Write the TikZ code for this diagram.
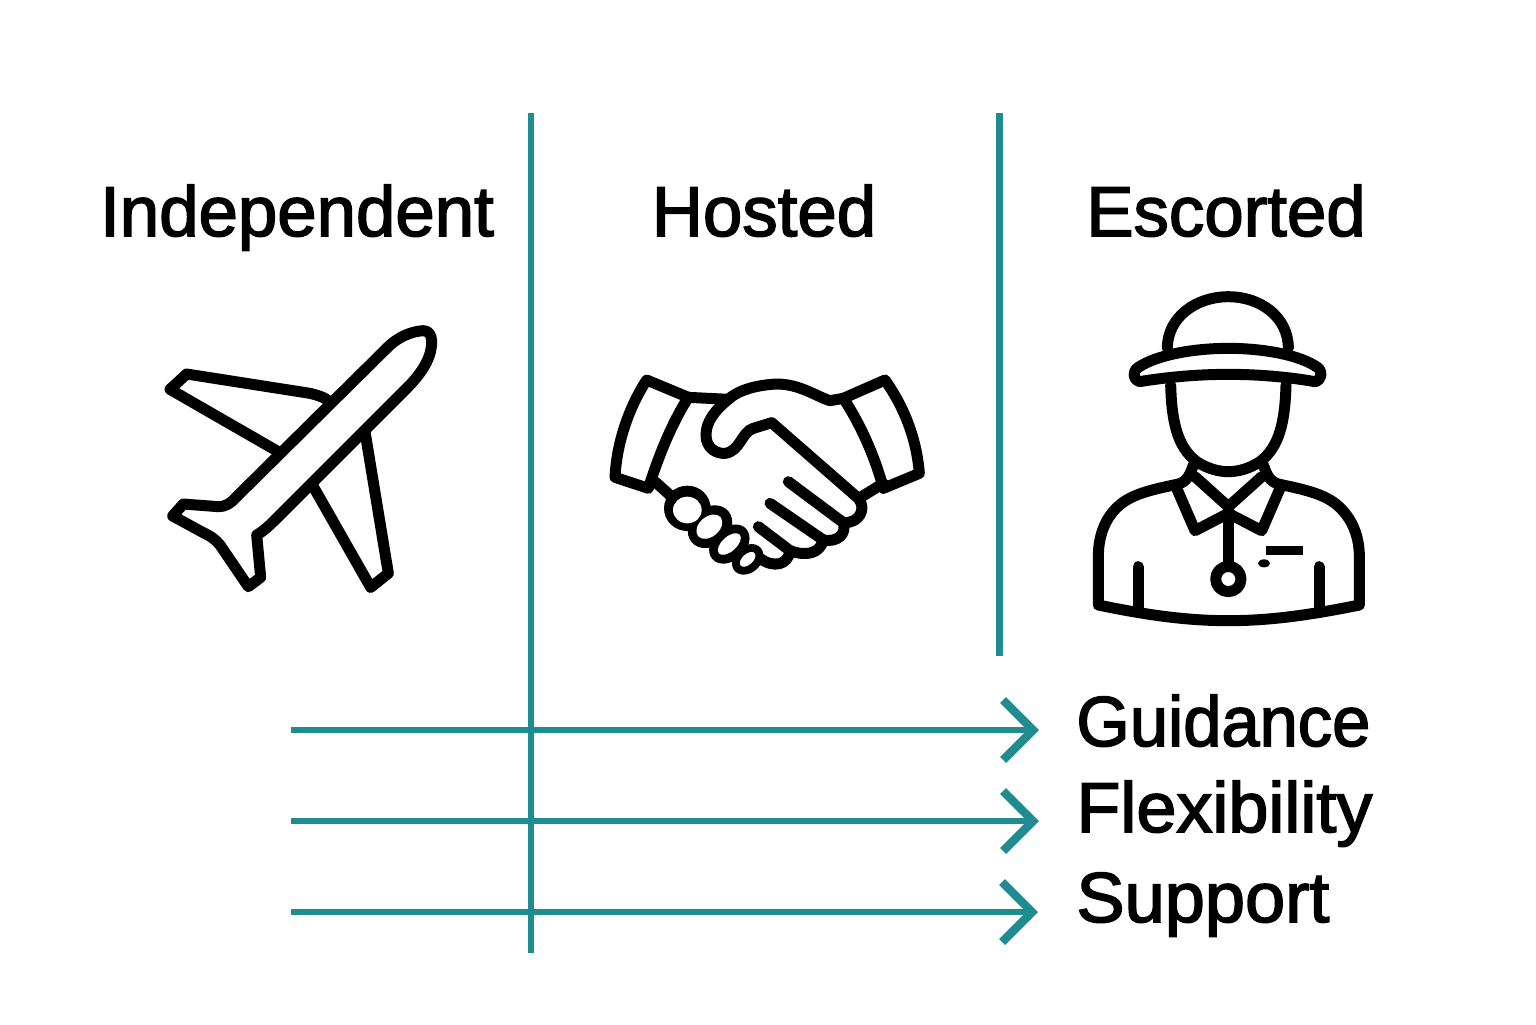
\documentclass[tikz,border=0pt]{standalone}
\usepackage{fontspec}
\setmainfont[FakeBold=2.2]{Liberation Sans}
\usetikzlibrary{arrows.meta}
\definecolor{teal1}{HTML}{1E8C91}
\tikzset{
  icon/.style={draw=black,line width=5.5pt,line join=round,line cap=round},
  rule/.style={draw=teal1,line width=3.25pt},
  flow/.style={draw=teal1,line width=3pt,-{Straight Barb[length=15pt,width=30pt,line width=4.2pt]}},
  head/.style={font=\fontsize{35.4}{38}\selectfont,text=black,inner sep=0pt,anchor=base},
  lab/.style={font=\fontsize{35.4}{38}\selectfont,text=black,inner sep=0pt,anchor=base west}
}
\begin{document}
\begin{tikzpicture}[x=0.5pt,y=-0.5pt]
\useasboundingbox (0,0) rectangle (1536,1024);
\fill[white] (0,0) rectangle (1536,1024);
% rules
\coordinate (v1t) at (531,113); \coordinate (v1b) at (531,953);
\coordinate (v2t) at (999.5,113); \coordinate (v2b) at (999.5,656);
\draw[rule] (v1t) -- (v1b);
\draw[rule] (v2t) -- (v2b);
\coordinate (a1) at (291,730); \coordinate (b1) at (1039,730);
\coordinate (a2) at (291,821); \coordinate (b2) at (1039,821);
\coordinate (a3) at (291,912); \coordinate (b3) at (1038,912);
\draw[flow] (a1) -- (b1);
\draw[flow] (a2) -- (b2);
\draw[flow] (a3) -- (b3);
% text
\node[head] (t1) at (297,236) {Independent};
\node[head] (t2) at (764,236) {Hosted};
\node[head] (t3) at (1226,236) {Escorted};
\node[lab,xscale=0.97] (l1) at (1076,746) {Guidance};
\node[lab,xscale=1.017] (l2) at (1076,832) {Flexibility};
\node[lab,xscale=1.02] (l3) at (1076,922) {Support};
% plane
\begin{scope}[shift={(140,310)},x=0.16667pt,y=-0.16667pt]
\draw[icon] (850,62) .. controls (810,64) and (770,85) .. (745,110) -- (290,560)
  .. controls (270,582) and (255,590) .. (235,590) -- (130,582) -- (98,618) -- (190,668)
  .. controls (215,680) and (228,690) .. (240,705) -- (325,830) -- (362,802) -- (350,675)
  .. controls (375,660) and (390,645) .. (420,615) -- (660,375) -- (800,235)
  .. controls (860,175) and (875,130) .. (875,95) .. controls (875,75) and (865,61) .. (850,62) -- cycle;
\draw[icon] (565,272) .. controls (550,260) and (530,255) .. (510,250) -- (140,192) -- (90,238) -- (415,425);
\draw[icon] (675,365) -- (745,790) -- (692,832) -- (520,530);
\end{scope}
% handshake
\begin{scope}[shift={(600,360)},x=0.16667pt,y=-0.16667pt]
\draw[icon] (140,60) -- (265,112) .. controls (215,190) and (175,290) .. (145,385) -- (45,352)
  .. controls (50,250) and (85,145) .. (140,60) -- cycle;
\draw[icon] (855,60) -- (730,115) .. controls (780,190) and (825,290) .. (850,385) -- (958,340)
  .. controls (950,240) and (915,145) .. (855,60) -- cycle;
\draw[icon] (265,112) -- (385,118);
\draw[icon] (730,115) -- (690,122) .. controls (650,110) and (600,72) .. (530,72)
  .. controls (470,75) and (415,90) .. (385,118)
  .. controls (345,150) and (318,185) .. (318,225) .. controls (318,265) and (350,282) .. (375,280)
  .. controls (420,275) and (425,215) .. (460,205) -- (515,188) -- (775,415)
  .. controls (800,445) and (780,490) .. (730,488);
\draw[icon] (565,365) -- (730,488) .. controls (740,520) and (715,548) .. (670,540);
\draw[icon] (510,430) -- (670,540) .. controls (660,580) and (620,590) .. (570,572);
\draw[icon] (475,500) -- (570,572) .. controls (565,615) and (520,625) .. (480,595);
\draw[icon] (850,370) -- (785,410);
\draw[icon] (165,365) -- (215,410);
\fill[black] (262,445) ellipse [x radius=70,y radius=68];
\fill[black,rotate around={40:(330,500)}] (330,500) ellipse [x radius=72,y radius=58];
\fill[black,rotate around={42:(388,552)}] (388,552) ellipse [x radius=68,y radius=50];
\fill[black,rotate around={42:(443,598)}] (443,598) ellipse [x radius=52,y radius=40];
\fill[white] (262,450) ellipse [x radius=43,y radius=40];
\fill[white,rotate around={40:(328,500)}] (328,500) ellipse [x radius=44,y radius=30];
\fill[white,rotate around={42:(388,552)}] (388,552) ellipse [x radius=42,y radius=22];
\fill[white,rotate around={42:(443,598)}] (443,598) ellipse [x radius=28,y radius=16];
\end{scope}
% person
\begin{scope}[shift={(1080,280)},x=0.16667pt,y=-0.16667pt]
\draw[icon] (262,205) .. controls (262,110) and (350,50) .. (445,50) .. controls (540,50) and (625,110) .. (625,205);
\draw[icon] (178,305) .. controls (160,300) and (155,275) .. (175,262) .. controls (230,225) and (340,205) .. (445,205)
  .. controls (550,205) and (660,225) .. (712,262) .. controls (730,275) and (725,300) .. (705,305)
  .. controls (620,290) and (530,283) .. (445,283) .. controls (360,283) and (270,290) .. (178,305) -- cycle;
\draw[icon] (272,315) .. controls (275,420) and (290,500) .. (350,545) .. controls (385,568) and (420,575) .. (445,575)
  .. controls (470,575) and (505,568) .. (540,545) .. controls (600,500) and (615,420) .. (618,315);
\draw[icon] (340,555) .. controls (330,585) and (320,605) .. (295,612) .. controls (220,628) and (165,640) .. (125,670)
  .. controls (80,705) and (55,760) .. (55,830) -- (55,975) .. controls (200,1005) and (320,1022) .. (445,1022)
  .. controls (570,1022) and (690,1005) .. (838,975) -- (838,830) .. controls (838,760) and (810,705) .. (765,670)
  .. controls (725,640) and (670,628) .. (595,612) .. controls (570,605) and (560,585) .. (550,555);
\draw[icon] (345,590) -- (445,680) -- (545,590);
\draw[icon] (290,625) -- (345,752) -- (445,700) -- (545,752) -- (600,625);
\draw[icon] (445,680) -- (445,860);
\draw[icon] (445,897) circle [radius=38];
\fill[black] (558,797) rectangle (668,825);
\fill[black] (552,850) ellipse [x radius=18,y radius=12];
\draw[icon] (174,860) -- (174,990);
\draw[icon] (717,860) -- (717,990);
\end{scope}
\end{tikzpicture}
\end{document}
